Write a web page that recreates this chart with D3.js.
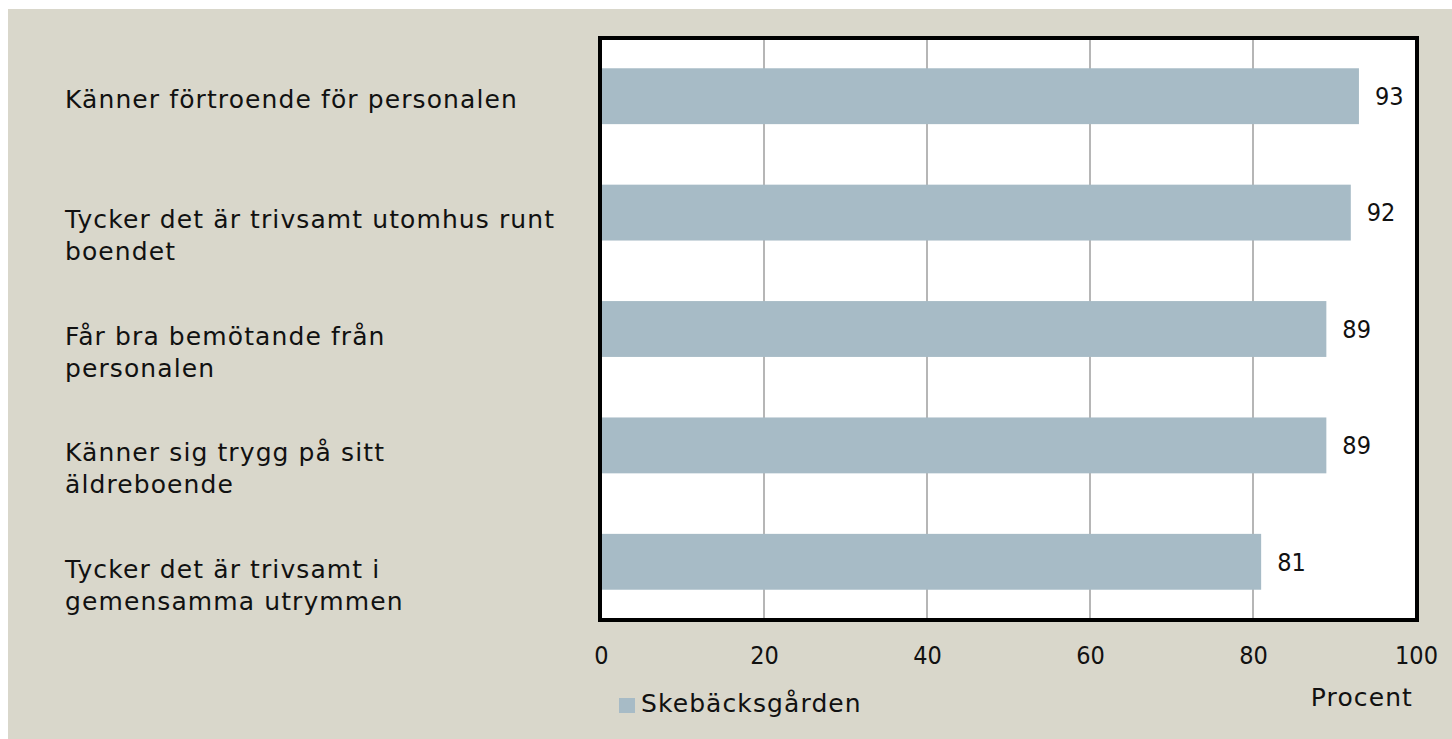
<!DOCTYPE html>
<html>
<head>
<meta charset="utf-8">
<script src="https://cdn.jsdelivr.net/npm/d3@7"></script>
<style>
  body { margin: 0; background: #fff; }
</style>
</head>
<body>
<script>
// data
var categories = [
    "Känner förtroende för personalen",
    "Tycker det är trivsamt utomhus runt boendet",
    "Får bra bemötande från personalen",
    "Känner sig trygg på sitt äldreboende",
    "Tycker det är trivsamt i gemensamma utrymmen"
]
// how each category label wraps in the original
var labelLines = [
    ["Känner förtroende för personalen"],
    ["Tycker det är trivsamt utomhus runt", "boendet"],
    ["Får bra bemötande från", "personalen"],
    ["Känner sig trygg på sitt", "äldreboende"],
    ["Tycker det är trivsamt i", "gemensamma utrymmen"]
]
var values = [93, 92, 89, 89, 81]
var xTicks = [0, 20, 40, 60, 80, 100]
var seriesName = "Skebäcksgården"
var axisTitle = "Procent"

var width = 1452, height = 739
var margin = {top: 38, right: 36, bottom: 119, left: 601}
var barColor = "#a7bbc6"
var font = "'DejaVu Sans', sans-serif"
var numFont = "'DejaVu Sans Condensed', 'DejaVu Sans', sans-serif"

var svg = d3.select("body").append("svg")
    .attr("width", width)
    .attr("height", height)
    .attr("font-family", font)

// panel background
svg.append("rect")
    .attr("x", 8).attr("y", 9)
    .attr("width", width - 8).attr("height", height - 9)
    .attr("fill", "#d9d7cb")

xScale = d3.scaleLinear()
    .domain([0, 100])
    .range([margin.left, width - margin.right])
yScale = d3.scaleBand()
    .domain(categories)
    .range([margin.top, height - margin.bottom])
    .paddingInner(0.52)
    .paddingOuter(0.26)

var plotTop = margin.top, plotBottom = height - margin.bottom

// plot area fill
svg.append("rect")
    .attr("x", xScale(0)).attr("y", plotTop)
    .attr("width", xScale(100) - xScale(0)).attr("height", plotBottom - plotTop)
    .attr("fill", "#fff")

// vertical gridlines
svg.append("g")
    .selectAll("line")
    .data(xTicks.slice(1, -1))
    .join("line")
        .attr("x1", d => xScale(d)).attr("x2", d => xScale(d))
        .attr("y1", plotTop).attr("y2", plotBottom)
        .attr("stroke", "#858585")
        .attr("stroke-width", 1.2)

// bars
svg.append("g")
    .selectAll("rect")
    .data(values)
    .join("rect")
        .attr("x", xScale(0))
        .attr("y", (d, i) => yScale(categories[i]))
        .attr("width", d => xScale(d) - xScale(0))
        .attr("height", yScale.bandwidth())
        .attr("fill", barColor)

// value labels
svg.append("g")
    .selectAll("text")
    .data(values)
    .join("text")
        .attr("x", d => xScale(d) + 16)
        .attr("y", (d, i) => yScale(categories[i]) + yScale.bandwidth() / 2)
        .attr("dy", "0.35em")
        .attr("font-family", numFont)
        .attr("font-size", 25)
        .attr("fill", "#111")
        .text(d => d)

// frame
svg.append("rect")
    .attr("x", xScale(0) - 1).attr("y", plotTop)
    .attr("width", xScale(100) - xScale(0) + 2).attr("height", plotBottom - plotTop)
    .attr("fill", "none")
    .attr("stroke", "#000")
    .attr("stroke-width", 4)

// x axis
xAxis = g => g
    .attr("transform", `translate(0, ${plotBottom})`)
    .call(d3.axisBottom(xScale).tickValues(xTicks).tickSize(0).tickPadding(26))
    .call(g => g.select(".domain").remove())
    .call(g => g.selectAll("text")
        .attr("font-family", numFont)
        .attr("font-size", 25)
        .attr("fill", "#111"))
svg.append("g").call(xAxis)

// category labels
var catG = svg.append("g")
    .selectAll("text")
    .data(labelLines)
    .join("text")
        .attr("x", 65)
        .attr("y", (d, i) => yScale(categories[i]) + yScale.bandwidth() / 2 + (d.length > 1 ? 7 : 3))
        .attr("font-size", 25)
        .attr("letter-spacing", 1.1)
        .attr("fill", "#111")
catG.selectAll("tspan")
    .data(d => d)
    .join("tspan")
        .attr("x", 65)
        .attr("dy", (d, i) => i === 0 ? "0.35em" : 32)
        .text(d => d)

// legend
svg.append("rect")
    .attr("x", 619).attr("y", 698)
    .attr("width", 16).attr("height", 15)
    .attr("fill", barColor)
svg.append("text")
    .attr("x", 641).attr("y", 703)
    .attr("dy", "0.35em")
    .attr("font-size", 25)
    .attr("letter-spacing", 1.1)
    .attr("fill", "#111")
    .text(seriesName)

// axis title
svg.append("text")
    .attr("x", 1413).attr("y", 697)
    .attr("dy", "0.35em")
    .attr("text-anchor", "end")
    .attr("font-size", 25)
    .attr("letter-spacing", 1.1)
    .attr("fill", "#111")
    .text(axisTitle)
</script>
</body>
</html>
